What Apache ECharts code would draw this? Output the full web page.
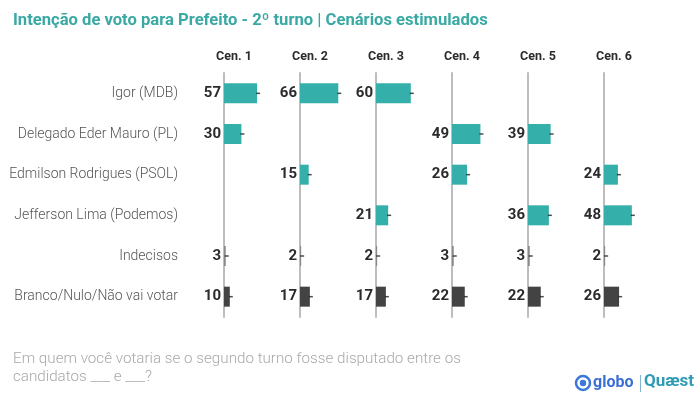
<!DOCTYPE html>
<html>
<head>
<meta charset="utf-8">
<script src="https://cdn.jsdelivr.net/npm/echarts@6/dist/echarts.min.js"></script>
<style>
  html, body { margin: 0; padding: 0; background: #fff; }
  #chart { width: 700px; height: 397px; }
</style>
</head>
<body>
<div id="chart"></div>
<script>
var categories = ['Igor (MDB)', 'Delegado Eder Mauro (PL)', 'Edmilson Rodrigues (PSOL)',
                  'Jefferson Lima (Podemos)', 'Indecisos', 'Branco/Nulo/Não vai votar'];
var scenarios = ['Cen. 1', 'Cen. 2', 'Cen. 3', 'Cen. 4', 'Cen. 5', 'Cen. 6'];
var cen1 = [57, 30, null, null, 3, 10];
var cen2 = [66, null, 15, null, 2, 17];
var cen3 = [60, null, null, 21, 2, 17];
var cen4 = [null, 49, 26, null, 3, 22];
var cen5 = [null, 39, null, 36, 3, 22];
var cen6 = [null, null, 24, 48, 2, 26];
var allValues = [cen1, cen2, cen3, cen4, cen5, cen6];

var rowColors = ['#35AFA9', '#35AFA9', '#35AFA9', '#35AFA9', '#8a8a8a', '#434343'];

var myChart = echarts.init(document.getElementById('chart'));
var font = 'Roboto, sans-serif';

var grids = [], xAxes = [], yAxes = [], series = [], graphics = [];
for (var i = 0; i < scenarios.length; i++) {
    var left = 224 + i * 76;
    grids.push({ left: left, top: 73, width: 76, height: 244 });
    xAxes.push({
        gridIndex: i, type: 'value', min: 0, max: 131,
        show: false
    });
    yAxes.push({
        gridIndex: i, type: 'category', data: categories, inverse: true,
        axisLine: { show: true, lineStyle: { color: '#bdbdbd', width: 2 } },
        axisTick: { show: false },
        axisLabel: {
            show: i === 0, margin: 46, color: '#555', fontSize: 14,
            fontFamily: font, fontWeight: 300
        },
        z: 1
    });
    var vals = allValues[i];
    series.push({
        type: 'bar', xAxisIndex: i, yAxisIndex: i, barWidth: 20,
        z: 3,
        data: vals.map(function (v, k) {
            return { value: v, itemStyle: { color: rowColors[k] } };
        }),
        label: {
            show: true, position: 'left', distance: 3,
            color: '#2b2b2b', fontSize: 15, fontWeight: 'bold', fontFamily: font,
            formatter: function (p) { return p.value == null ? '' : p.value; }
        }
    });
    series.push({
        type: 'scatter', xAxisIndex: i, yAxisIndex: i,
        symbol: 'rect', symbolSize: [4, 1.5], symbolOffset: [1, 0],
        itemStyle: { color: '#222' }, z: 4, silent: true,
        data: vals
    });
    graphics.push({
        type: 'text', x: left + 10, y: 57,
        style: {
            text: scenarios[i], align: 'center', verticalAlign: 'middle',
            fill: '#2b2b2b', font: 'bold 12.5px Roboto, sans-serif'
        }
    });
}

graphics.push({
    type: 'circle', shape: { cx: 583, cy: 383, r: 7 },
    style: { fill: 'none', stroke: '#3b78d8', lineWidth: 2.5 }
});
graphics.push({
    type: 'circle', shape: { cx: 583, cy: 383, r: 3.2 },
    style: { fill: '#3b78d8' }
});
graphics.push({
    type: 'text', x: 593, y: 383,
    style: { text: 'globo', fill: '#3b6fd6', verticalAlign: 'middle',
             font: 'bold 16px Roboto, sans-serif' }
});
graphics.push({
    type: 'rect', shape: { x: 640, y: 375, width: 1, height: 17 },
    style: { fill: '#7fb5d0' }
});
graphics.push({
    type: 'text', x: 644, y: 382,
    style: { text: 'Quæst', fill: '#2f9bb5', verticalAlign: 'middle',
             font: 'bold 17px Roboto, sans-serif' }
});

option = {
    backgroundColor: '#fff',
    animation: false,
    title: [{
        text: 'Intenção de voto para Prefeito - 2º turno | Cenários estimulados',
        left: 8, top: 7,
        textStyle: { color: '#3AA9A4', fontSize: 16.6, fontWeight: 'bold', fontFamily: font }
    }, {
        text: 'Em quem você votaria se o segundo turno fosse disputado entre os\ncandidatos ___ e ___?',
        left: 8, top: 345,
        textStyle: { color: '#a9a9a9', fontSize: 15.2, fontWeight: 300, fontFamily: font, lineHeight: 18 }
    }],
    grid: grids,
    xAxis: xAxes,
    yAxis: yAxes,
    series: series,
    graphic: graphics
};

myChart.setOption(option);
window.addEventListener("resize", function () {
    myChart.resize();
});
</script>
</body>
</html>
